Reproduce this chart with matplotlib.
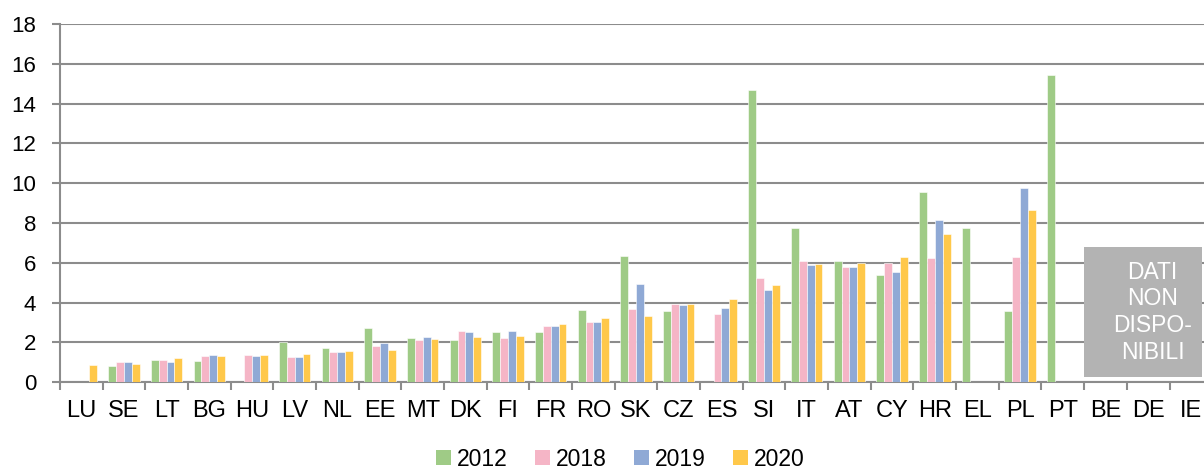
import matplotlib

matplotlib.use("Agg")
import matplotlib.pyplot as plt
import numpy as np
from matplotlib.patches import Patch, Rectangle

plt.rcParams["font.family"] = ["Liberation Sans", "DejaVu Sans"]

countries = ["LU", "SE", "LT", "BG", "HU", "LV", "NL", "EE", "MT", "DK", "FI",
             "FR", "RO", "SK", "CZ", "ES", "SI", "IT", "AT", "CY", "HR", "EL",
             "PL", "PT", "BE", "DE", "IE"]
nan = np.nan
v2012 = [nan, 0.83, 1.13, 1.08, nan, 2.02, 1.70, 2.73, 2.22, 2.13, 2.50,
         2.50, 3.62, 6.35, 3.57, nan, 14.70, 7.76, 6.11, 5.39, 9.56, 7.76,
         3.55, 15.45, nan, nan, nan]
v2018 = [nan, 1.03, 1.10, 1.30, 1.37, 1.28, 1.53, 1.83, 2.13, 2.58, 2.23,
         2.80, 3.03, 3.67, 3.93, 3.40, 5.22, 6.11, 5.81, 5.98, 6.26, nan,
         6.30, nan, nan, nan, nan]
v2019 = [nan, 1.02, 1.02, 1.37, 1.30, 1.28, 1.50, 1.95, 2.27, 2.53, 2.58,
         2.83, 3.02, 4.92, 3.87, 3.70, 4.63, 5.91, 5.81, 5.52, 8.13, nan,
         9.76, nan, nan, nan, nan]
v2020 = [0.87, 0.93, 1.23, 1.33, 1.38, 1.43, 1.57, 1.60, 2.18, 2.27, 2.33,
         2.93, 3.23, 3.30, 3.95, 4.20, 4.90, 5.94, 6.01, 6.28, 7.46, nan,
         8.64, nan, nan, nan, nan]
years = ["2012", "2018", "2019", "2020"]
colors = ["#9FCB86", "#F5B5C6", "#8FA9D5", "#FFC84A"]
missing = ["BE", "DE", "IE"]
missing_text = "DATI\nNON\nDISPO-\nNIBILI"

fig = plt.figure(figsize=(12.04, 4.70), dpi=100)
ax = fig.add_axes([0.0498, 0.187, 0.957, 0.762])

x = np.arange(len(countries))
width = 0.184
series = [v2012, v2018, v2019, v2020]
for i, (vals, col) in enumerate(zip(series, colors)):
    ax.bar(x + (i - 1.5) * width, vals, width, color=col, zorder=3,
           edgecolor="white", linewidth=0.4)

ax.set_xlim(-0.5, len(countries) - 0.5)
ax.set_ylim(0, 18)
ax.set_yticks(range(0, 19, 2))
ax.yaxis.grid(True, color="#8c8c8c", linewidth=1.5, zorder=0)
ax.set_axisbelow(True)

ax.set_xticks(x)
ax.set_xticklabels(countries, fontsize=17)
ax.set_xticks(np.arange(-0.5, len(countries)), minor=True)
ax.tick_params(axis="x", which="major", length=0, pad=13)
ax.tick_params(axis="x", which="minor", length=6, width=1.5, color="#8c8c8c")
ax.tick_params(axis="y", length=6, width=1.5, color="#8c8c8c", labelsize=16, pad=11)

for side in ["top", "right"]:
    ax.spines[side].set_visible(False)
for side in ["left", "bottom"]:
    ax.spines[side].set_color("#8c8c8c")
    ax.spines[side].set_linewidth(1.5)

# grey "no data" box over the last three countries
i0 = countries.index(missing[0])
ax.add_patch(Rectangle((i0 - 0.5, 0.25), 2.76, 6.52, facecolor="#b3b3b3",
                       edgecolor="none", zorder=4))
ax.text(i0 + 1.1, 3.5, missing_text, color="white", fontsize=16.5,
        ha="center", va="center", linespacing=1.22, zorder=5)

handles = [Patch(facecolor=c, label=y) for c, y in zip(colors, years)]
fig.legend(handles=handles, loc="lower center", bbox_to_anchor=(0.515, -0.045),
           ncol=4, frameon=False, fontsize=16.5, handlelength=0.65,
           handleheight=0.65, handletextpad=0.25, columnspacing=1.2)

fig.savefig("out.png", dpi=100)
